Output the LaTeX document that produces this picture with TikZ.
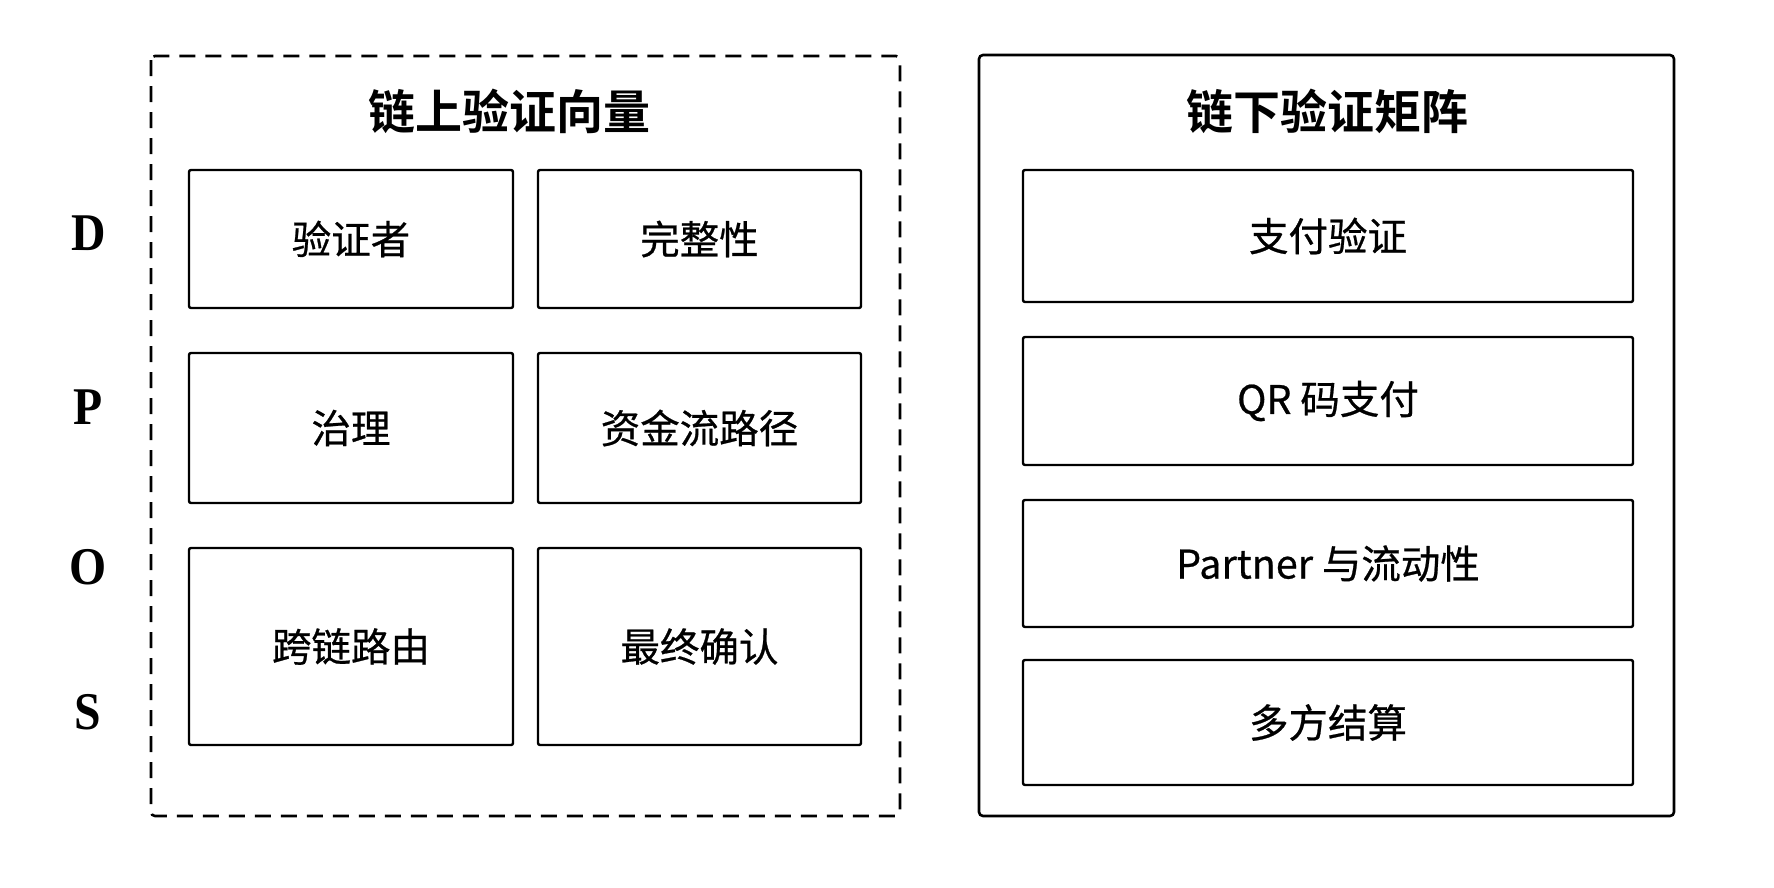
\documentclass[tikz,border=0pt]{standalone}
\usepackage{fontspec}
\setmainfont{Noto Sans CJK SC}[BoldFont={Noto Sans CJK SC Bold}]
\newfontfamily\cellfont[FakeBold=0.6]{Noto Sans CJK SC}
\newfontfamily\lblfont[FakeStretch=0.9]{Liberation Serif}
\begin{document}
\begin{tikzpicture}[x=1pt,y=-1pt,
  cell/.style={draw, line width=2.4pt, rounded corners=2pt, inner sep=0pt, outer sep=0pt,
    font=\fontsize{39.5}{44}\cellfont},
  frame/.style={line width=2.6pt, rounded corners=4pt},
  ttl/.style={inner sep=0pt, font=\fontsize{47}{52}\selectfont\bfseries},
  lbl/.style={inner sep=0pt, font=\fontsize{53}{58}\selectfont\lblfont\bfseries}]
\useasboundingbox (0,0) rectangle (1774,887);
\fill[white] (0,0) rectangle (1774,887);
% frames
\draw[frame, dash pattern=on 16pt off 10pt] (151,56) rectangle (900,816);
\draw[frame] (979,55) rectangle (1674,816);
% titles
\node[ttl] (t1) at (509.5,111) {链上验证向量};
\node[ttl] (t2) at (1327,111) {链下验证矩阵};
% row labels
\node[lbl] (lD) at (89,233) {D};
\node[lbl] (lP) at (88,407) {P};
\node[lbl] (lO) at (88,567) {O};
\node[lbl] (lS) at (87.5,712) {S};
% left cells
\node[cell, minimum width=324pt, minimum height=138pt] (c11) at (351,239) {验证者};
\node[cell, minimum width=323pt, minimum height=138pt] (c12) at (699.5,239) {完整性};
\node[cell, minimum width=324pt, minimum height=150pt] (c21) at (351,428) {治理};
\node[cell, minimum width=323pt, minimum height=150pt] (c22) at (699.5,428) {资金流路径};
\node[cell, minimum width=324pt, minimum height=197pt] (c31) at (351,646.5) {跨链路由};
\node[cell, minimum width=323pt, minimum height=197pt] (c32) at (699.5,646.5) {最终确认};
% right cells
\node[cell, minimum width=610pt, minimum height=132pt] (r1) at (1328,236) {支付验证};
\node[cell, minimum width=610pt, minimum height=128pt] (r2) at (1328,401) {QR 码支付};
\node[cell, minimum width=610pt, minimum height=127pt] (r3) at (1328,563.5) {Partner 与流动性};
\node[cell, minimum width=610pt, minimum height=125pt] (r4) at (1328,722.5) {多方结算};
\end{tikzpicture}
\end{document}
